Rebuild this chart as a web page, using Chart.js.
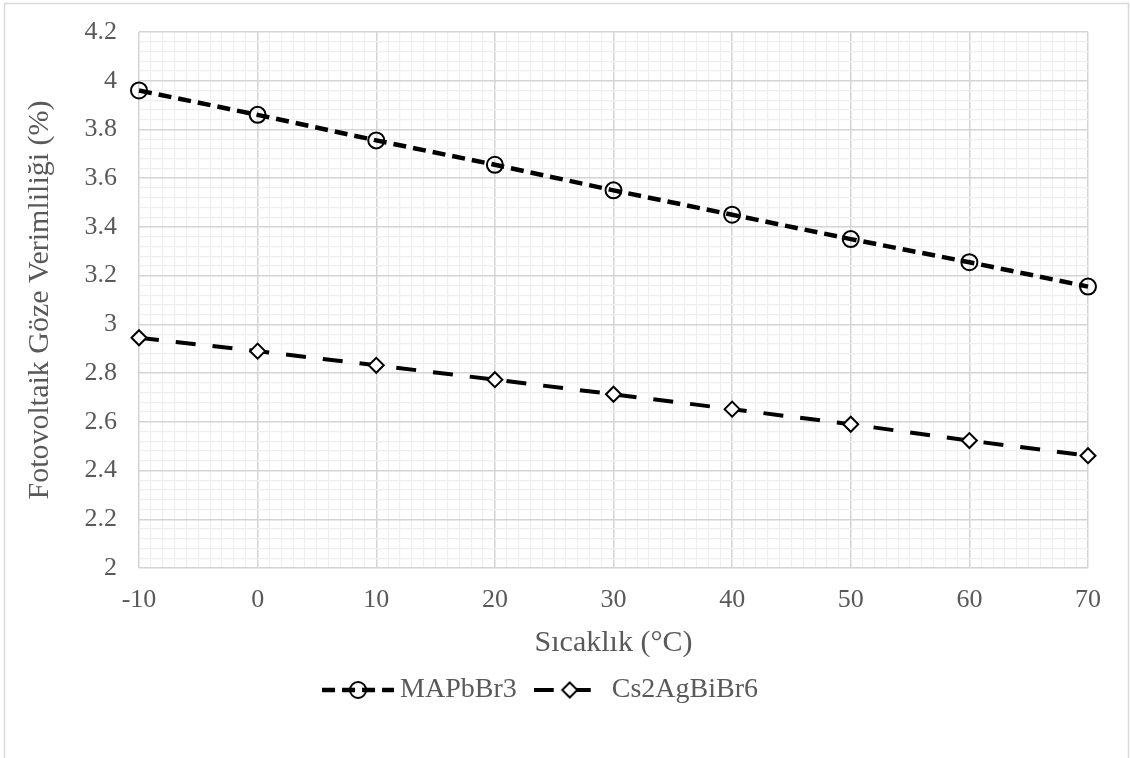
<!DOCTYPE html>
<html><head><meta charset="utf-8">
<script src="https://cdn.jsdelivr.net/npm/chart.js@4/dist/chart.umd.min.js"></script>
<style>html,body{margin:0;padding:0;background:#fff;} #wrap{width:1130px;height:758px;position:relative;}</style>
</head><body><div id="wrap"><canvas id="c" width="1130" height="758"></canvas></div>
<script>
// ---- data ----
const temperatures = [-10, 0, 10, 20, 30, 40, 50, 60, 70];
const mapbbr3 = [3.96, 3.86, 3.755, 3.655, 3.55, 3.45, 3.35, 3.255, 3.155];
const cs2agbibr6 = [2.945, 2.89, 2.832, 2.773, 2.713, 2.652, 2.59, 2.523, 2.461];
const seriesNames = ['MAPbBr3', 'Cs2AgBiBr6'];
const xTitle = 'Sıcaklık (°C)';
const yTitle = 'Fotovoltaik Göze Verimliliği (%)';
const xRange = [-10, 70];
const yRange = [2, 4.2];
const xMajorStep = 10, xMinorStep = 1;
const yMajorStep = 0.2, yMinorStep = 0.04;

// ---- styles ----
const FONT = 'Liberation Serif';
const TXT = '#595959';
const MAJOR = '#d4d4d4', MINOR = '#efefef';

function isMajor(v, step) {
  const r = v / step;
  return Math.abs(r - Math.round(r)) < 1e-6;
}

function makeKey(dash, lw, marker) {
  const c = document.createElement('canvas');
  c.width = 72; c.height = 24;
  const g = c.getContext('2d');
  g.strokeStyle = '#000';
  g.lineWidth = lw;
  g.setLineDash(dash);
  g.beginPath(); g.moveTo(0, 12); g.lineTo(72, 12); g.stroke();
  g.setLineDash([]);
  g.lineWidth = 2;
  g.beginPath();
  if (marker === 'circle') {
    g.arc(36, 12, 8, 0, Math.PI * 2);
  } else {
    g.moveTo(36, 4.5); g.lineTo(43.5, 12); g.lineTo(36, 19.5); g.lineTo(28.5, 12); g.closePath();
    g.fillStyle = '#fff'; g.fill();
  }
  g.stroke();
  return c;
}
const keys = [makeKey([13, 7], 4.5, 'circle'), makeKey([20, 17], 4, 'diamond')];

const frame = {
  id: 'frame',
  beforeDraw(chart) {
    const g = chart.ctx;
    g.save();
    g.fillStyle = '#fff';
    g.fillRect(0, 0, chart.width, chart.height);
    g.strokeStyle = '#d9d9d9';
    g.lineWidth = 1.5;
    g.strokeRect(4.5, 3.5, 1124, 770);
    g.restore();
  }
};

const toPts = arr => temperatures.map((t, i) => ({x: t, y: arr[i]}));

new Chart(document.getElementById('c'), {
  type: 'scatter',
  data: {
    datasets: [
      {
        label: seriesNames[0], data: toPts(mapbbr3), showLine: true, clip: false,
        borderColor: '#000', borderWidth: 4.5, borderDash: [13, 7],
        pointStyle: 'circle', pointRadius: 8, pointBorderWidth: 2,
        pointBorderColor: '#000', pointBackgroundColor: 'rgba(0,0,0,0)'
      },
      {
        label: seriesNames[1], data: toPts(cs2agbibr6), showLine: true, clip: false,
        borderColor: '#000', borderWidth: 4, borderDash: [20, 17],
        pointStyle: 'rectRot', pointRadius: 7.5, pointBorderWidth: 2,
        pointBorderColor: '#000', pointBackgroundColor: '#fff'
      }
    ]
  },
  options: {
    responsive: false, animation: false, devicePixelRatio: 1,
    layout: {padding: {left: 0, right: 42, top: 32, bottom: 44}},
    plugins: {
      tooltip: {enabled: false},
      legend: {
        position: 'bottom',
        labels: {
          usePointStyle: true, pointStyleWidth: 56, padding: 25,
          font: {family: FONT, size: 28}, color: TXT,
          generateLabels: chart => chart.data.datasets.map((ds, i) => ({
            text: ds.label, pointStyle: keys[i], fillStyle: 'rgba(0,0,0,0)',
            strokeStyle: 'rgba(0,0,0,0)', lineWidth: 0, hidden: false,
            datasetIndex: i, fontColor: TXT
          }))
        }
      }
    },
    scales: {
      x: {
        type: 'linear', min: xRange[0], max: xRange[1],
        afterFit: s => { s.height = 83; },
        ticks: {
          stepSize: xMinorStep, autoSkip: false, maxRotation: 0, padding: 17,
          font: {family: FONT, size: 26}, color: TXT,
          callback: v => isMajor(v, xMajorStep) ? String(Math.round(v)) : ''
        },
        grid: {
          drawTicks: false,
          color: c => isMajor(c.tick.value, xMajorStep) ? MAJOR : MINOR,
          lineWidth: c => isMajor(c.tick.value, xMajorStep) ? 1.5 : 1.2
        },
        border: {display: false},
        title: {display: true, text: xTitle, font: {family: FONT, size: 30}, color: TXT, padding: {top: 0, bottom: -10}}
      },
      y: {
        min: yRange[0], max: yRange[1],
        afterFit: s => { s.width = 139; s.paddingTop = 0; s.paddingBottom = 0; },
        ticks: {
          stepSize: yMinorStep, autoSkip: false, padding: 22,
          font: {family: FONT, size: 26}, color: TXT,
          callback: v => isMajor(v, yMajorStep) ? String(parseFloat((Math.round(v / yMajorStep) * yMajorStep).toFixed(1))) : ''
        },
        grid: {
          drawTicks: false,
          color: c => isMajor(c.tick.value, yMajorStep) ? MAJOR : MINOR,
          lineWidth: c => isMajor(c.tick.value, yMajorStep) ? 1.5 : 1.2
        },
        border: {display: false},
        title: {display: true, text: yTitle, font: {family: FONT, size: 30}, color: TXT, padding: {top: 22, bottom: 0}}
      }
    }
  },
  plugins: [frame]
});
</script>
</body></html>
